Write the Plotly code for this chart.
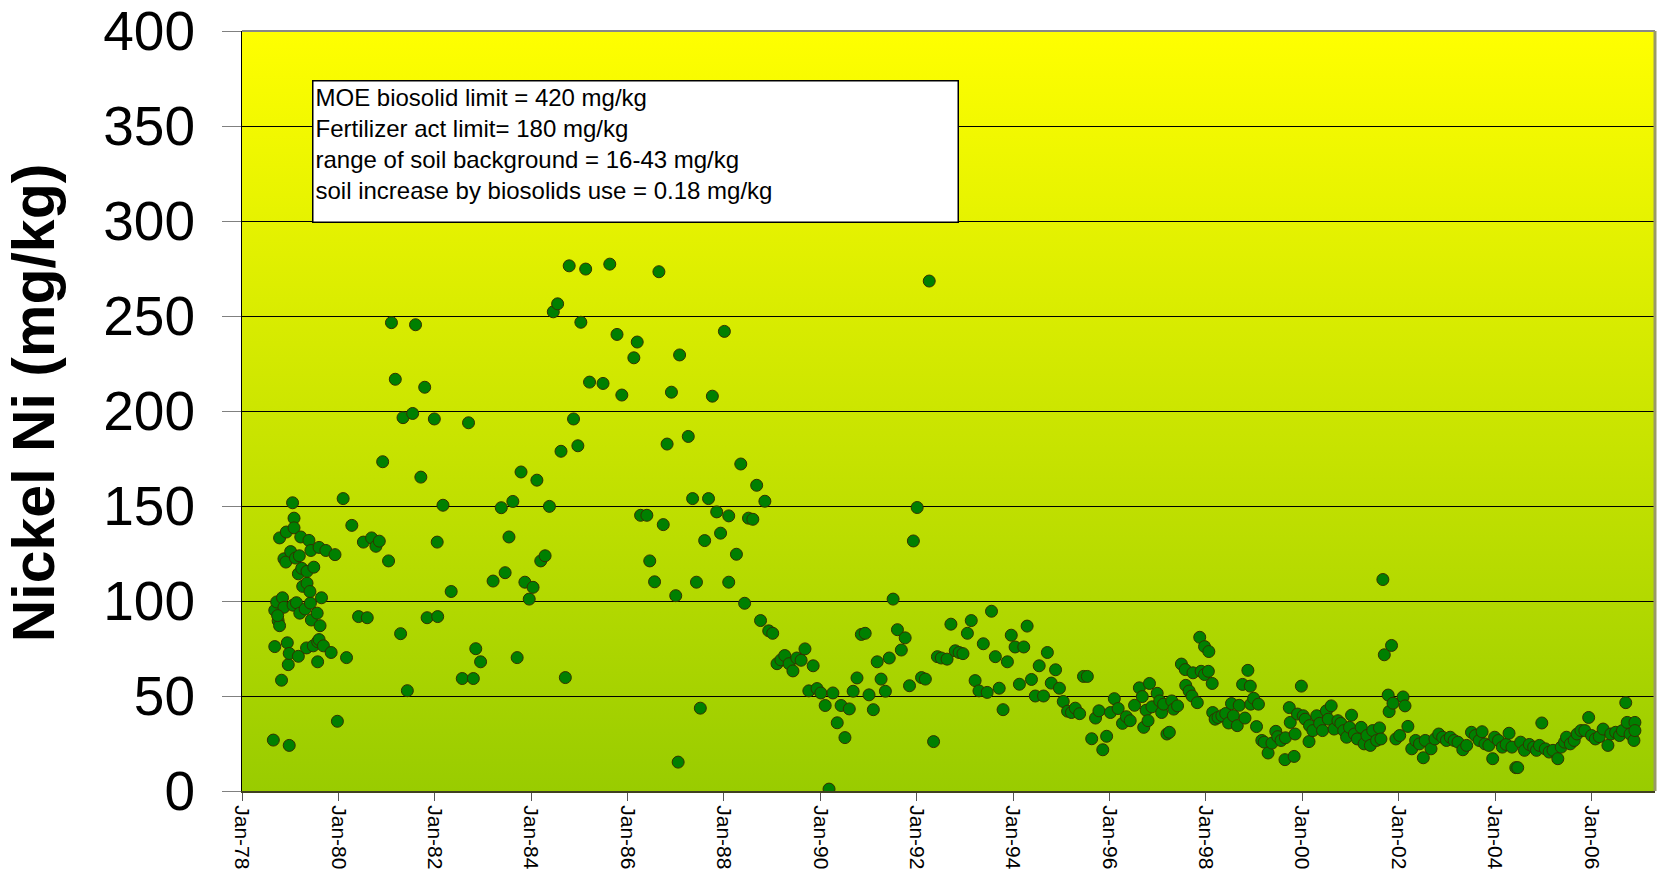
import base64
from datetime import datetime, timedelta
import plotly.graph_objects as go

# ---- data (decimal year, Ni mg/kg) ----
years_1978_1987 = [
    1978.65, 1978.98, 1978.82, 1978.68, 1978.94, 1978.96, 1978.98, 1979.17, 1979.34, 1979.48,
    1979.57, 1979.60, 1979.69, 1979.85, 1979.57, 1980.17, 1979.98, 1978.68, 1978.72, 1978.75,
    1978.78, 1978.84, 1978.87, 1978.74, 1979.06, 1979.13, 1979.20, 1979.31, 1979.42, 1979.44,
    1979.56, 1979.62, 1979.65, 1979.26, 1979.35, 1979.41, 1979.17, 1979.24, 1979.35, 1979.49,
    1978.87, 1978.91, 1979.01, 1979.11, 1979.19, 1978.78, 1978.92, 1979.08, 1979.08, 1979.05,
    1979.22, 1979.39, 1979.43, 1979.60, 1979.74, 1979.93, 1980.10, 1980.28, 1980.52, 1980.69,
    1980.78, 1980.85, 1981.04, 1980.92, 1980.42, 1980.60, 1981.10, 1981.60, 1981.18, 1981.34,
    1981.54, 1981.79, 1981.71, 1981.29, 1981.43, 1981.99, 1982.05, 1982.17, 1982.34, 1981.84,
    1982.06, 1982.70, 1982.85, 1982.95, 1982.57, 1982.80, 1983.21, 1983.38, 1983.46, 1983.54,
    1983.62, 1983.71, 1983.79, 1983.87, 1983.96, 1984.04, 1984.12, 1984.20, 1984.29, 1984.38,
    1984.46, 1984.55, 1984.62, 1984.71, 1984.79, 1984.88, 1984.97, 1985.03, 1985.13, 1985.21,
    1985.49, 1985.63, 1985.78, 1985.88, 1986.13, 1986.20, 1986.27, 1986.40, 1986.46, 1986.56,
    1986.65, 1986.74, 1986.82, 1986.91, 1987.00, 1987.05, 1987.08,
]
nickel_1978_1987 = [
    26.8, 24.0, 58.3, 76.0, 78.0, 66.5, 72.4, 70.9, 75.3, 76.4,
    78.6, 79.7, 76.4, 72.9, 68.0, 70.2, 36.7, 95.1, 99.5, 89.6,
    87.0, 101.7, 96.7, 92.3, 97.8, 99.1, 93.6, 95.8, 98.9, 90.0,
    93.6, 87.0, 101.7, 107.7, 109.4, 105.0, 114.3, 117.2, 115.6, 117.8,
    122.2, 120.5, 126.0, 122.6, 123.8, 133.2, 136.3, 143.6, 138.5, 151.7,
    133.7, 131.9, 126.6, 128.2, 126.6, 124.4, 153.9, 139.8, 131.0, 133.2,
    128.8, 131.5, 121.1, 173.3, 91.8, 91.2, 246.5, 245.4, 216.7, 196.5,
    198.7, 212.5, 165.2, 82.8, 52.8, 195.8, 131.0, 150.4, 105.0, 91.2,
    91.8, 193.8, 74.9, 68.0, 59.2, 59.2, 110.5, 149.1, 114.9, 133.7,
    152.4, 70.2, 167.9, 109.9, 101.0, 107.2, 163.6, 121.1, 123.8, 149.8,
    252.2, 256.4, 178.8, 59.7, 276.4, 195.8, 181.7, 246.7, 274.7, 215.2,
    214.5, 277.3, 240.3, 208.4, 228.0, 236.3, 145.1, 145.1, 121.1, 110.1,
    273.3, 140.2, 182.6, 209.9, 102.8, 15.2, 229.5,
]

years_1987_1996 = [
    1987.51, 1987.26, 1987.35, 1987.43, 1987.60, 1987.68, 1987.76, 1987.85, 1987.93, 1988.01,
    1988.10, 1988.10, 1988.26, 1988.35, 1988.43, 1988.51, 1988.60, 1988.68, 1988.76, 1988.85,
    1988.93, 1989.01, 1989.10, 1989.18, 1989.26, 1989.35, 1989.43, 1989.51, 1989.60, 1989.68,
    1989.85, 1989.76, 1989.93, 1990.01, 1990.10, 1990.18, 1990.26, 1990.35, 1990.43, 1990.51,
    1990.60, 1990.68, 1990.76, 1990.85, 1990.93, 1991.01, 1991.10, 1991.18, 1991.26, 1991.35,
    1991.43, 1991.51, 1991.60, 1991.68, 1991.76, 1991.85, 1991.93, 1992.01, 1992.10, 1992.18,
    1992.26, 1992.35, 1992.43, 1992.51, 1992.63, 1992.71, 1992.80, 1992.88, 1992.96, 1993.05,
    1993.13, 1993.21, 1993.29, 1993.38, 1993.46, 1993.55, 1993.63, 1993.71, 1993.79, 1993.88,
    1993.96, 1994.04, 1994.13, 1994.22, 1994.29, 1994.38, 1994.46, 1994.54, 1994.63, 1994.71,
    1994.79, 1994.88, 1994.96, 1995.04, 1995.13, 1995.21, 1995.29, 1995.38, 1995.46, 1995.54,
    1995.63, 1995.71, 1995.78, 1995.86, 1995.94,
]
nickel_1987_1996 = [
    43.6, 186.6, 153.9, 109.9, 131.8, 153.9, 207.8, 146.9, 135.7, 241.9,
    144.8, 109.9, 124.6, 172.1, 98.8, 143.6, 143.0, 160.9, 89.7, 152.5,
    84.3, 83.0, 67.0, 69.0, 71.3, 67.0, 63.2, 70.0, 68.8, 74.8,
    65.9, 52.7, 53.9, 51.6, 45.0, 1.0, 51.6, 35.9, 45.0, 28.1,
    43.2, 52.5, 59.5, 82.4, 83.0, 50.6, 42.8, 68.0, 58.9, 52.5,
    70.0, 101.0, 84.9, 74.2, 80.6, 55.4, 131.6, 149.2, 59.7, 58.9,
    268.4, 26.0, 70.7, 70.0, 69.4, 87.8, 73.8, 72.9, 72.3, 83.0,
    89.7, 58.1, 52.7, 77.5, 51.9, 94.6, 70.7, 54.1, 42.8, 68.0,
    82.0, 75.8, 56.2, 75.8, 86.8, 58.7, 50.0, 65.9, 50.0, 72.9,
    56.8, 63.8, 54.1, 47.1, 42.0, 41.3, 43.6, 40.7, 60.3, 60.3,
    27.5, 38.4, 42.2, 21.7, 28.8,
]

years_1996_2007 = [
    1996.02, 1996.10, 1996.18, 1996.27, 1996.35, 1996.43, 1996.52, 1996.62, 1996.68, 1996.71,
    1996.76, 1996.80, 1996.83, 1996.88, 1996.99, 1997.04, 1997.08, 1997.12, 1997.19, 1997.24,
    1997.29, 1997.33, 1997.41, 1997.49, 1997.57, 1997.58, 1997.65, 1997.71, 1997.73, 1997.82,
    1997.87, 1997.90, 1997.97, 1997.97, 1998.05, 1998.06, 1998.13, 1998.14, 1998.19, 1998.25,
    1998.33, 1998.41, 1998.47, 1998.53, 1998.57, 1998.65, 1998.69, 1998.76, 1998.81, 1998.87,
    1998.92, 1998.93, 1998.99, 1999.05, 1999.09, 1999.16, 1999.21, 1999.29, 1999.37, 1999.45,
    1999.49, 1999.56, 1999.64, 1999.65, 1999.73, 1999.75, 1999.83, 1999.85, 1999.90, 1999.98,
    2000.02, 2000.06, 2000.14, 2000.15, 2000.22, 2000.30, 2000.36, 2000.42, 2000.50, 2000.54,
    2000.60, 2000.66, 2000.74, 2000.80, 2000.86, 2000.92, 2000.98, 2001.02, 2001.08, 2001.14,
    2001.22, 2001.28, 2001.34, 2001.41, 2001.46, 2001.54, 2001.60, 2001.63, 2001.67, 2001.70,
    2001.78, 2001.80, 2001.85, 2001.88, 2001.94, 2002.02, 2002.09, 2002.13, 2002.19, 2002.27,
    2002.35, 2002.43, 2002.51, 2002.55, 2002.67, 2002.75, 2002.83, 2002.91, 2002.99, 2003.07,
    2003.15, 2003.23, 2003.33, 2003.41, 2003.51, 2003.59, 2003.67, 2003.73, 2003.79, 2003.87,
    2003.95, 2003.99, 2004.07, 2004.15, 2004.23, 2004.29, 2004.35, 2004.43, 2004.47, 2004.53,
    2004.61, 2004.71, 2004.80, 2004.86, 2004.92, 2004.97, 2005.04, 2005.12, 2005.20, 2005.30,
    2005.37, 2005.44, 2005.48, 2005.56, 2005.64, 2005.70, 2005.78, 2005.86, 2005.94, 2006.00,
    2006.08, 2006.16, 2006.24, 2006.34, 2006.40, 2006.50, 2006.58, 2006.64, 2006.71, 2006.74,
    2006.80, 2006.88, 2006.90, 2006.90,
]
nickel_1996_2007 = [
    41.3, 48.6, 43.4, 35.6, 39.1, 37.0, 45.1, 54.3, 49.7, 33.5,
    42.5, 37.0, 56.6, 44.3, 51.4, 47.4, 41.3, 45.7, 30.0, 30.9,
    47.4, 43.1, 44.8, 66.8, 63.9, 55.6, 52.6, 50.0, 62.2, 46.5,
    80.9, 63.0, 76.0, 61.3, 63.0, 73.4, 56.6, 41.3, 37.8, 38.7,
    39.6, 40.8, 35.8, 46.0, 39.6, 34.4, 45.1, 56.1, 38.4, 63.5,
    55.2, 45.7, 48.8, 33.9, 45.7, 26.6, 25.7, 20.0, 25.2, 31.4,
    28.6, 26.6, 16.5, 28.0, 43.9, 36.1, 18.2, 30.0, 40.5, 55.2,
    39.6, 37.8, 26.0, 34.4, 31.8, 39.6, 35.6, 31.8, 42.2, 37.8,
    44.8, 32.6, 37.0, 35.6, 31.8, 28.3, 33.5, 39.9, 30.0, 27.4,
    33.5, 24.8, 29.2, 24.0, 31.8, 26.6, 33.2, 27.4, 111.3, 71.7,
    50.5, 41.8, 76.6, 46.2, 27.4, 29.2, 49.5, 44.8, 34.0, 22.2,
    26.6, 24.8, 17.5, 26.6, 22.2, 27.4, 30.0, 28.3, 26.6, 28.3,
    26.6, 25.7, 21.7, 24.0, 30.9, 29.2, 26.6, 31.2, 24.8, 24.0,
    17.0, 28.3, 26.6, 23.1, 24.5, 30.4, 23.1, 12.3, 12.3, 25.7,
    21.4, 24.5, 23.1, 21.4, 24.0, 35.8, 22.2, 20.5, 21.4, 17.0,
    23.1, 25.7, 28.3, 24.8, 26.6, 30.0, 31.8, 31.8, 38.7, 29.2,
    27.4, 28.6, 32.6, 24.0, 30.0, 30.9, 29.2, 31.8, 46.5, 36.1,
    30.0, 26.6, 36.1, 31.8,
]

y_ticks = [0, 50, 100, 150, 200, 250, 300, 350, 400]
box_lines = [
    "MOE biosolid limit = 420 mg/kg",
    "Fertilizer act limit= 180 mg/kg",
    "range of soil background = 16-43 mg/kg",
    "soil increase by biosolids use = 0.18 mg/kg",
]
y_title = "Nickel Ni (mg/kg)"


def to_date(y):
    yr = int(y)
    return datetime(yr, 1, 1) + timedelta(days=(y - yr) * 365.25)


all_years = years_1978_1987 + years_1987_1996 + years_1996_2007
all_nickel = nickel_1978_1987 + nickel_1987_1996 + nickel_1996_2007
dates = [to_date(y) for y in all_years]

FONT = "Liberation Sans, Arial, sans-serif"

fig = go.Figure()
fig.add_trace(go.Scatter(
    x=dates, y=all_nickel, mode="markers",
    marker=dict(size=12, color="#008000", line=dict(color="#333300", width=1)),
    showlegend=False, hoverinfo="x+y",
))

svg = ('<svg xmlns="http://www.w3.org/2000/svg" width="100" height="100" viewBox="0 0 100 100" '
       'preserveAspectRatio="none"><defs><linearGradient id="g" x1="0" y1="0" x2="0" y2="1">'
       '<stop offset="0" stop-color="#FFFF00"/><stop offset="1" stop-color="#99CC00"/>'
       '</linearGradient></defs><rect x="0" y="0" width="100" height="100" fill="url(#g)"/></svg>')
src = "data:image/svg+xml;base64," + base64.b64encode(svg.encode()).decode()

fig.update_layout(
    width=1658, height=877,
    margin=dict(l=242, r=3, t=31, b=86, autoexpand=False),
    paper_bgcolor="white",
    plot_bgcolor="#CCE500",
    font=dict(family=FONT, color="black"),
    images=[dict(source=src, xref="paper", yref="paper", x=0, y=1, sizex=1, sizey=1,
                 xanchor="left", yanchor="top", sizing="stretch", layer="below")],
    xaxis=dict(
        type="date",
        range=["1978-01-01", "2007-04-27"],
        tick0="1978-01-01", dtick="M24", tickformat="%b-%y",
        tickangle=90,
        tickfont=dict(family=FONT, size=21, color="black"),
        ticks="outside", ticklen=8, tickcolor="#555555", tickwidth=1,
        showgrid=False, zeroline=False, automargin=False,
        showline=True, linecolor="#404020", linewidth=2,
    ),
    yaxis=dict(
        range=[0, 400], tickvals=y_ticks,
        tickfont=dict(family=FONT, size=55, color="black"),
        ticks="outside", ticklen=19, tickcolor="#808080", tickwidth=1,
        ticklabelstandoff=16, ticklabeloverflow="allow",
        showgrid=True, gridcolor="black", gridwidth=1,
        zeroline=False, automargin=False,
        showline=True, linecolor="black", linewidth=1,
    ),
    shapes=[
        dict(type="line", xref="x domain", yref="y domain", x0=0, x1=1, y0=1, y1=1,
             line=dict(color="#888888", width=2)),
        dict(type="line", xref="x domain", yref="y domain", x0=1, x1=1, y0=0, y1=1,
             line=dict(color="#999966", width=3)),
    ],
    annotations=[
        dict(text="<br>".join(box_lines), xref="paper", yref="paper",
             x=0.0493, y=0.9355, xanchor="left", yanchor="top",
             align="left", valign="top", width=640, height=136,
             showarrow=False, bgcolor="white", bordercolor="black", borderwidth=1.5,
             borderpad=2, font=dict(family=FONT, size=24, color="black")),
        dict(text="<b>" + y_title + "</b>", xref="paper", yref="paper",
             x=-0.147, y=0.5105, xanchor="center", yanchor="middle",
             textangle=-90, showarrow=False,
             font=dict(family=FONT, size=59, color="black")),
    ],
)

fig.write_html(
    "out.html",
    config={"displayModeBar": False},
    post_script="document.body.style.margin='0';document.body.style.overflow='hidden';",
)
